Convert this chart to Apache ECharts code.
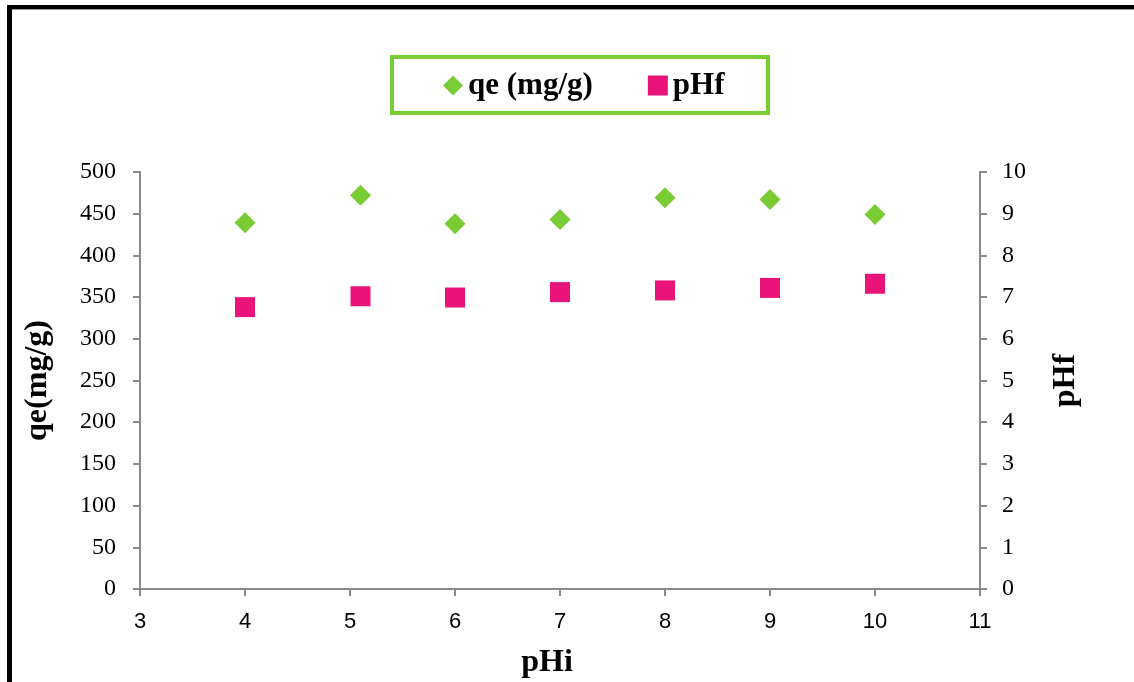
<!DOCTYPE html>
<html>
<head>
<meta charset="utf-8">
<script src="https://cdn.jsdelivr.net/npm/echarts@6/dist/echarts.min.js"></script>
<style>
html,body{margin:0;padding:0;background:#fff;}
#chart{width:1134px;height:682px;}
</style>
</head>
<body>
<div id="chart"></div>
<script>
// Data
const pHi = [4, 5.1, 6, 7, 8, 9, 10];
const qe = [439, 472, 438, 443, 469, 467, 449];
const pHf = [6.76, 7.02, 6.99, 7.12, 7.16, 7.22, 7.32];
const seriesNames = ['qe (mg/g)', 'pHf'];
const axisNames = { x: 'pHi', yLeft: 'qe(mg/g)', yRight: 'pHf' };

const axisGray = '#8a8a8a';
const serif = '"Liberation Serif", "Times New Roman", serif';
const green = '#7ACC35';
const pink = '#E9137A';

const chart = echarts.init(document.getElementById('chart'), null, { renderer: 'canvas' });
chart.setOption({
  backgroundColor: '#fff',
  animation: false,
  graphic: [
    { type: 'line', shape: { x1: 9.5, y1: 5, x2: 9.5, y2: 682 }, style: { stroke: '#000', lineWidth: 5 } },
    { type: 'line', shape: { x1: 7, y1: 7, x2: 1134, y2: 7 }, style: { stroke: '#000', lineWidth: 4 } },
    { type: 'line', shape: { x1: 12, y1: 9.5, x2: 1134, y2: 9.5 }, style: { stroke: '#999', lineWidth: 1 } },
    { type: 'rect', shape: { x: 392, y: 57, width: 376, height: 56 }, style: { fill: 'none', stroke: green, lineWidth: 4 }, z: 0 }
  ],
  legend: {
    left: 443,
    top: 70,
    padding: 0,
    itemWidth: 20,
    itemHeight: 20,
    itemGap: 55,
    textStyle: { fontFamily: serif, fontWeight: 'bold', fontSize: 31, color: '#000' },
    data: [
      { name: seriesNames[0], icon: 'diamond' },
      { name: seriesNames[1], icon: 'rect' }
    ]
  },
  grid: { left: 140, right: 154, top: 172, bottom: 93, containLabel: false, outerBoundsMode: 'none' },
  xAxis: {
    type: 'value',
    min: 3, max: 11, interval: 1,
    name: axisNames.x,
    nameLocation: 'middle',
    nameGap: 58,
    nameTextStyle: { fontFamily: serif, fontWeight: 'bold', fontSize: 32, color: '#000', padding: [0, 26, 0, 0] },
    axisLine: { show: true, lineStyle: { color: axisGray, width: 2 } },
    axisTick: { show: true, inside: false, length: 7, lineStyle: { color: axisGray, width: 2 } },
    axisLabel: { fontFamily: '"Liberation Sans", Arial, sans-serif', fontSize: 22, color: '#000', margin: 22 },
    splitLine: { show: false }
  },
  yAxis: [
    {
      type: 'value', position: 'left',
      min: 0, max: 500, interval: 50,
      name: axisNames.yLeft,
      nameLocation: 'middle',
      nameRotate: 90,
      nameGap: 86,
      nameTextStyle: { fontFamily: serif, fontWeight: 'bold', fontSize: 32, color: '#000' },
      axisLine: { show: true, lineStyle: { color: axisGray, width: 2 } },
      axisTick: { show: true, inside: false, length: 7, lineStyle: { color: axisGray, width: 2 } },
      axisLabel: { fontFamily: serif, fontSize: 24, color: '#000', margin: 24 },
      splitLine: { show: false }
    },
    {
      type: 'value', position: 'right',
      min: 0, max: 10, interval: 1,
      name: axisNames.yRight,
      nameLocation: 'middle',
      nameRotate: 90,
      nameGap: 70,
      nameTextStyle: { fontFamily: serif, fontWeight: 'bold', fontSize: 32, color: '#000' },
      axisLine: { show: true, lineStyle: { color: axisGray, width: 2 } },
      axisTick: { show: true, inside: false, length: 7, lineStyle: { color: axisGray, width: 2 } },
      axisLabel: { fontFamily: serif, fontSize: 24, color: '#000', margin: 22 },
      splitLine: { show: false }
    }
  ],
  series: [
    {
      name: seriesNames[0], type: 'scatter', yAxisIndex: 0,
      symbol: 'diamond', symbolSize: 21,
      itemStyle: { color: green, opacity: 1 },
      data: pHi.map((x, i) => [x, qe[i]])
    },
    {
      name: seriesNames[1], type: 'scatter', yAxisIndex: 1,
      symbol: 'rect', symbolSize: 20,
      itemStyle: { color: pink, opacity: 1 },
      data: pHi.map((x, i) => [x, pHf[i]])
    }
  ]
});
</script>
</body>
</html>
